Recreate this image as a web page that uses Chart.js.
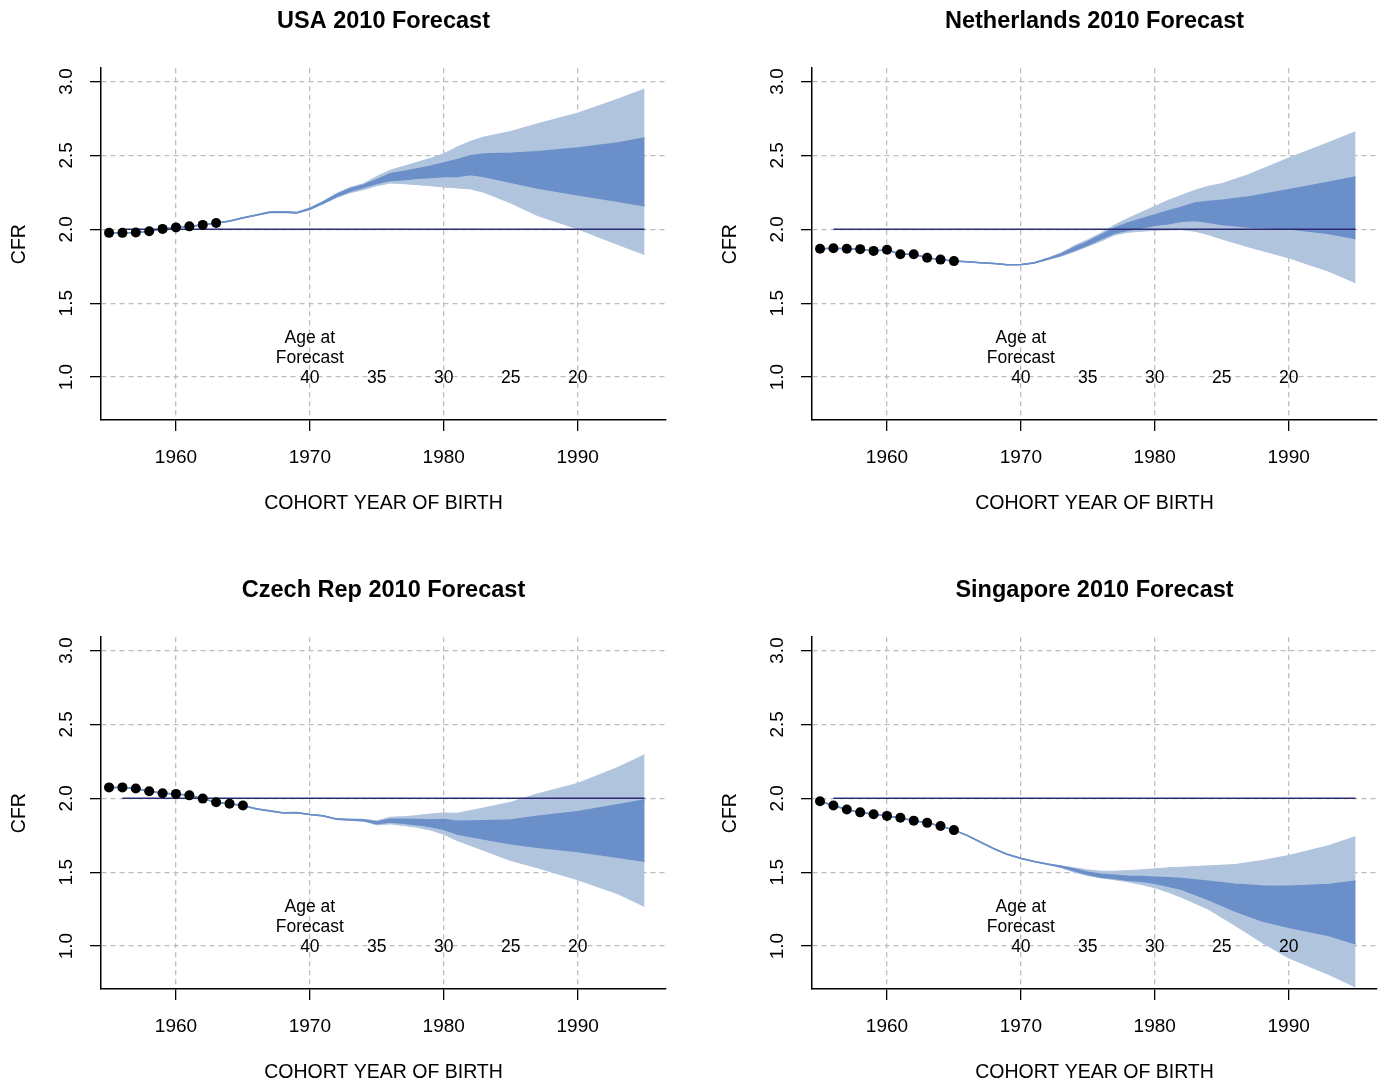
<!DOCTYPE html>
<html>
<head>
<meta charset="utf-8">
<script src="https://cdn.jsdelivr.net/npm/chart.js@4.4.1/dist/chart.umd.min.js"></script>
<style>
  body { margin: 0; background: #fff; width: 1382px; height: 1080px; position: relative; overflow: hidden; }
  canvas { position: absolute; }
</style>
</head>
<body>
<canvas id="usa" width="711" height="511" style="left:0;top:0"></canvas>
<canvas id="nl" width="671" height="511" style="left:711px;top:0"></canvas>
<canvas id="cz" width="711" height="511" style="left:0;top:569px"></canvas>
<canvas id="sg" width="671" height="511" style="left:711px;top:569px"></canvas>
<script>
// reference level (replacement fertility) and the age-at-forecast labels
const refLevel = 2.0;
const refYears = [1956, 1995];
const ageLevel = 1.0;
const ageYears = [1970, 1975, 1980, 1985, 1990];
const ageLabels = [40, 35, 30, 25, 20];

// USA
const usaObsYears = [1955, 1956, 1957, 1958, 1959, 1960, 1961, 1962, 1963];
const usaObs = [1.976, 1.976, 1.978, 1.987, 2.003, 2.013, 2.02, 2.03, 2.043];
const usaFcYears = [1964, 1965, 1966, 1967, 1968, 1969, 1970, 1971, 1972, 1973, 1974, 1975, 1976, 1977, 1978, 1979, 1980, 1981, 1982, 1983, 1985, 1987, 1990, 1993, 1995];
const usaOuterLo = [2.055, 2.077, 2.095, 2.113, 2.115, 2.108, 2.133, 2.172, 2.215, 2.248, 2.268, 2.295, 2.313, 2.309, 2.302, 2.295, 2.286, 2.28, 2.273, 2.25, 2.178, 2.093, 2.003, 1.897, 1.829];
const usaInnerLo = [2.055, 2.077, 2.095, 2.114, 2.116, 2.11, 2.136, 2.177, 2.222, 2.258, 2.285, 2.309, 2.331, 2.336, 2.345, 2.351, 2.358, 2.358, 2.37, 2.358, 2.318, 2.28, 2.234, 2.189, 2.16];
const usaInnerHi = [2.056, 2.078, 2.097, 2.117, 2.119, 2.113, 2.141, 2.185, 2.236, 2.274, 2.3, 2.336, 2.376, 2.392, 2.408, 2.426, 2.449, 2.471, 2.498, 2.509, 2.514, 2.525, 2.55, 2.584, 2.618];
const usaOuterHi = [2.057, 2.08, 2.099, 2.119, 2.121, 2.116, 2.145, 2.19, 2.243, 2.283, 2.309, 2.358, 2.4, 2.426, 2.453, 2.48, 2.511, 2.557, 2.595, 2.624, 2.662, 2.714, 2.786, 2.881, 2.949];

// Netherlands
const nlObsYears = [1955, 1956, 1957, 1958, 1959, 1960, 1961, 1962, 1963, 1964, 1965];
const nlObs = [1.868, 1.872, 1.868, 1.866, 1.854, 1.862, 1.831, 1.831, 1.808, 1.795, 1.785];
const nlFcYears = [1966, 1967, 1968, 1969, 1970, 1971, 1972, 1973, 1974, 1975, 1976, 1977, 1978, 1979, 1980, 1981, 1982, 1983, 1984, 1985, 1987, 1990, 1993, 1995];
const nlOuterLo = [1.78, 1.773, 1.768, 1.76, 1.761, 1.771, 1.796, 1.818, 1.849, 1.885, 1.921, 1.962, 1.98, 1.987, 1.993, 1.996, 1.998, 1.987, 1.964, 1.935, 1.881, 1.807, 1.716, 1.638];
const nlInnerLo = [1.78, 1.773, 1.768, 1.76, 1.761, 1.772, 1.798, 1.824, 1.858, 1.894, 1.935, 1.975, 1.993, 2.009, 2.027, 2.038, 2.054, 2.059, 2.047, 2.032, 2.016, 2.003, 1.971, 1.937];
const nlInnerHi = [1.781, 1.774, 1.769, 1.761, 1.762, 1.774, 1.802, 1.834, 1.878, 1.917, 1.962, 2.009, 2.043, 2.07, 2.097, 2.124, 2.15, 2.178, 2.189, 2.196, 2.219, 2.268, 2.318, 2.354];
const nlOuterHi = [1.781, 1.774, 1.769, 1.761, 1.762, 1.775, 1.805, 1.84, 1.89, 1.93, 1.975, 2.03, 2.074, 2.115, 2.155, 2.196, 2.23, 2.264, 2.291, 2.309, 2.37, 2.482, 2.588, 2.66];

// Czech Rep
const czObsYears = [1955, 1956, 1957, 1958, 1959, 1960, 1961, 1962, 1963, 1964, 1965];
const czObs = [2.074, 2.074, 2.066, 2.048, 2.034, 2.03, 2.02, 1.998, 1.973, 1.964, 1.952];
const czFcYears = [1966, 1967, 1968, 1969, 1970, 1971, 1972, 1973, 1974, 1975, 1976, 1977, 1978, 1979, 1980, 1981, 1983, 1985, 1987, 1990, 1993, 1995];
const czOuterLo = [1.928, 1.915, 1.901, 1.903, 1.89, 1.881, 1.857, 1.851, 1.846, 1.82, 1.827, 1.816, 1.804, 1.786, 1.757, 1.714, 1.647, 1.579, 1.53, 1.449, 1.354, 1.268];
const czInnerLo = [1.928, 1.915, 1.901, 1.903, 1.89, 1.881, 1.858, 1.853, 1.849, 1.828, 1.84, 1.831, 1.822, 1.809, 1.791, 1.759, 1.725, 1.692, 1.669, 1.64, 1.601, 1.574];
const czInnerHi = [1.929, 1.916, 1.902, 1.904, 1.891, 1.882, 1.861, 1.857, 1.855, 1.84, 1.858, 1.858, 1.856, 1.854, 1.856, 1.845, 1.849, 1.854, 1.878, 1.91, 1.957, 1.989];
const czOuterHi = [1.929, 1.916, 1.902, 1.904, 1.891, 1.882, 1.862, 1.859, 1.858, 1.848, 1.872, 1.876, 1.883, 1.894, 1.901, 1.899, 1.935, 1.973, 2.03, 2.101, 2.209, 2.295];

// Singapore
const sgObsYears = [1955, 1956, 1957, 1958, 1959, 1960, 1961, 1962, 1963, 1964, 1965];
const sgObs = [1.98, 1.951, 1.924, 1.905, 1.892, 1.881, 1.868, 1.849, 1.834, 1.813, 1.785];
const sgFcYears = [1966, 1967, 1968, 1969, 1970, 1971, 1972, 1973, 1974, 1975, 1976, 1977, 1978, 1979, 1980, 1981, 1982, 1984, 1986, 1988, 1990, 1993, 1995];
const sgOuterLo = [1.748, 1.703, 1.658, 1.62, 1.593, 1.572, 1.554, 1.532, 1.5, 1.478, 1.462, 1.449, 1.435, 1.417, 1.395, 1.365, 1.33, 1.25, 1.14, 1.025, 0.92, 0.808, 0.723];
const sgInnerLo = [1.748, 1.703, 1.658, 1.62, 1.593, 1.572, 1.554, 1.536, 1.51, 1.484, 1.466, 1.457, 1.446, 1.439, 1.426, 1.405, 1.384, 1.315, 1.238, 1.172, 1.128, 1.072, 1.016];
const sgInnerHi = [1.749, 1.704, 1.659, 1.621, 1.594, 1.573, 1.555, 1.54, 1.522, 1.5, 1.486, 1.48, 1.473, 1.471, 1.466, 1.462, 1.458, 1.439, 1.419, 1.407, 1.405, 1.417, 1.439];
const sgOuterHi = [1.749, 1.704, 1.659, 1.621, 1.594, 1.573, 1.556, 1.544, 1.53, 1.516, 1.507, 1.507, 1.511, 1.516, 1.523, 1.53, 1.534, 1.543, 1.552, 1.579, 1.613, 1.68, 1.741];

const FONT = '"Liberation Sans", Arial, Helvetica, sans-serif';
const OUTER = "#b0c4de";
const INNER = "#6b8fc9";
const NAVY = "#2b2b73";
const GRID = "#bdbdbd";

Chart.defaults.font.family = FONT;
Chart.defaults.color = "#000";

function pts(xs, ys) {
  return xs.map((x, i) => ({ x: x, y: ys[i] }));
}

const ageNote = {
  id: "ageNote",
  afterDatasetsDraw(chart) {
    const { ctx, scales: { x, y } } = chart;
    const base = y.getPixelForValue(ageLevel) + 1;
    ctx.save();
    ctx.font = "17.5px " + FONT;
    ctx.fillStyle = "#000";
    ctx.textAlign = "center";
    ctx.textBaseline = "middle";
    const x0 = x.getPixelForValue(ageYears[0]);
    ctx.fillText("Age at", x0, base - 40);
    ctx.fillText("Forecast", x0, base - 20);
    ageYears.forEach((yr, i) => {
      ctx.fillText(String(ageLabels[i]), x.getPixelForValue(yr), base);
    });
    ctx.restore();
  }
};

function bandLine(xs, ys, color, width, fill) {
  return {
    data: pts(xs, ys),
    borderColor: color,
    backgroundColor: color,
    borderWidth: width,
    pointRadius: 0,
    fill: fill
  };
}

function makePanel(id, title, obsYears, obs, fcYears, outerLo, innerLo, innerHi, outerHi, padRight) {
  const ctx = document.getElementById(id).getContext("2d");
  const xs = obsYears.concat(fcYears);
  return new Chart(ctx, {
    type: "line",
    data: {
      datasets: [
        {
          data: pts(obsYears, obs),
          showLine: false,
          pointRadius: 5,
          pointBorderWidth: 0,
          pointBackgroundColor: "#000",
          borderColor: "#000"
        },
        {
          data: pts(refYears, [refLevel, refLevel]),
          borderColor: NAVY,
          borderWidth: 1.6,
          pointRadius: 0,
          fill: false
        },
        bandLine(xs, obs.concat(innerHi), INNER, 1.5, "+1"),
        bandLine(xs, obs.concat(innerLo), INNER, 1.5, false),
        bandLine(xs, obs.concat(outerHi), OUTER, 1, "+1"),
        bandLine(xs, obs.concat(outerLo), OUTER, 1, false)
      ]
    },
    options: {
      responsive: false,
      animation: false,
      devicePixelRatio: 1,
      events: [],
      elements: { line: { tension: 0 } },
      layout: { padding: { left: 0, right: padRight, top: 0, bottom: 0 } },
      plugins: {
        legend: { display: false },
        tooltip: { enabled: false },
        title: {
          display: true,
          text: title,
          fullSize: false,
          color: "#000",
          font: { size: 23.5, weight: "bold", family: FONT },
          padding: { top: 7, bottom: 33 }
        }
      },
      scales: {
        x: {
          type: "linear",
          min: 1954.4,
          max: 1996.6,
          afterFit: (s) => { s.height = 91; },
          ticks: {
            stepSize: 10,
            includeBounds: false,
            autoSkip: false,
            maxRotation: 0,
            padding: 15,
            color: "#000",
            font: { size: 19 },
            callback: (v) => String(v)
          },
          grid: { color: GRID, lineWidth: 1.3, tickColor: "#000", tickLength: 11, tickWidth: 1.3 },
          border: { color: "#000", width: 1.5, dash: [5, 4] },
          title: {
            display: true,
            text: "COHORT YEAR OF BIRTH",
            color: "#000",
            font: { size: 19.5, lineHeight: 0.8 },
            padding: 0
          }
        },
        y: {
          min: 0.71,
          max: 3.09,
          afterFit: (s) => { s.width = 101; },
          ticks: {
            stepSize: 0.5,
            includeBounds: false,
            autoSkip: false,
            minRotation: 90,
            maxRotation: 90,
            crossAlign: "center",
            padding: 10,
            color: "#000",
            font: { size: 19 },
            callback: (v) => v.toFixed(1)
          },
          grid: { color: GRID, lineWidth: 1.3, tickColor: "#000", tickLength: 11, tickWidth: 1.3 },
          border: { color: "#000", width: 1.5, dash: [5, 4] },
          title: {
            display: true,
            text: "CFR",
            color: "#000",
            font: { size: 19.5 },
            padding: { top: 8, bottom: 0 }
          }
        }
      }
    },
    plugins: [ageNote]
  });
}

makePanel("usa", "USA 2010 Forecast", usaObsYears, usaObs, usaFcYears, usaOuterLo, usaInnerLo, usaInnerHi, usaOuterHi, 45);
makePanel("nl", "Netherlands 2010 Forecast", nlObsYears, nlObs, nlFcYears, nlOuterLo, nlInnerLo, nlInnerHi, nlOuterHi, 5);
makePanel("cz", "Czech Rep 2010 Forecast", czObsYears, czObs, czFcYears, czOuterLo, czInnerLo, czInnerHi, czOuterHi, 45);
makePanel("sg", "Singapore 2010 Forecast", sgObsYears, sgObs, sgFcYears, sgOuterLo, sgInnerLo, sgInnerHi, sgOuterHi, 5);
</script>
</body>
</html>
